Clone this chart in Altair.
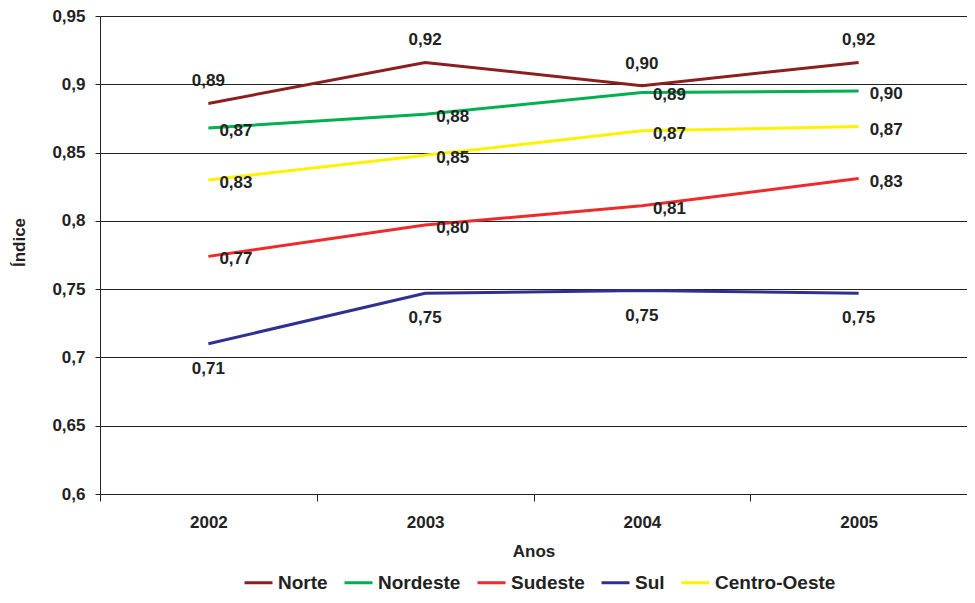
import altair as alt
import pandas as pd

years = ["2002", "2003", "2004", "2005"]
series_names = ["Norte", "Nordeste", "Sudeste", "Sul", "Centro-Oeste"]
norte = [0.886, 0.916, 0.899, 0.916]
nordeste = [0.868, 0.878, 0.894, 0.895]
sudeste = [0.774, 0.797, 0.811, 0.831]
sul = [0.710, 0.747, 0.749, 0.747]
centro_oeste = [0.830, 0.848, 0.866, 0.869]
colors = ["#8B1F1F", "#00B04F", "#EE2A2A", "#2E3192", "#FFF200"]
y_ticks = [0.6, 0.65, 0.7, 0.75, 0.8, 0.85, 0.9, 0.95]

values = [norte, nordeste, sudeste, sul, centro_oeste]
rows = []
for name, vals in zip(series_names, values):
    for yr, v in zip(years, vals):
        rows.append({"Ano": yr, "Regiao": name, "Indice": v})
df = pd.DataFrame(rows)

FONT = "Liberation Sans"

x_enc = alt.X("Ano:O", scale=alt.Scale(type="band", paddingInner=0, paddingOuter=0),
              axis=alt.Axis(title="Anos", labelAngle=0, tickBand="extent", tickSize=7,
                            labelPadding=13, titlePadding=13, grid=False,
                            domainColor="#222222", tickColor="#222222"))
y_enc = alt.Y("Indice:Q", scale=alt.Scale(domain=[0.6, 0.95], nice=False, zero=False),
              axis=alt.Axis(title="Índice", values=y_ticks, tickSize=5, labelPadding=10,
                            labelExpr="replace(format(datum.value, '.2~f'), '.', ',')",
                            grid=True, gridColor="#222222", gridOpacity=1,
                            domainColor="#222222", tickColor="#222222",
                            titleX=-72, titleY=226))

color_enc = alt.Color("Regiao:N",
                      scale=alt.Scale(domain=series_names, range=colors),
                      legend=alt.Legend(title=None, orient="none", direction="horizontal",
                                        legendX=143, legendY=551, symbolType="stroke",
                                        symbolSize=784, symbolStrokeWidth=3,
                                        labelFontSize=19, labelFont=FONT, labelFontWeight="bold",
                                        labelColor="#222222", columnPadding=10, labelOffset=4))

base = alt.Chart(df)

lines = base.mark_line(strokeWidth=3).encode(x=x_enc, y=y_enc, color=color_enc)

lab = base.transform_calculate(lbl="replace(format(datum.Indice, '.2f'), '.', ',')")

text_style = dict(font=FONT, fontSize=17, fontWeight="bold", color="#222222")

norte_lbl = lab.transform_filter(alt.datum.Regiao == "Norte").mark_text(
    dy=-22, align="center", baseline="middle", **text_style
).encode(x="Ano:O", y="Indice:Q", text="lbl:N")

right_lbl = lab.transform_filter(
    alt.FieldOneOfPredicate(field="Regiao", oneOf=["Nordeste", "Sudeste", "Centro-Oeste"])
).mark_text(dx=11, dy=3, align="left", baseline="middle", **text_style
).encode(x="Ano:O", y="Indice:Q", text="lbl:N")

sul_lbl = lab.transform_filter(alt.datum.Regiao == "Sul").mark_text(
    dy=25, align="center", baseline="middle", **text_style
).encode(x="Ano:O", y="Indice:Q", text="lbl:N")

chart = alt.layer(lines, norte_lbl, right_lbl, sul_lbl).properties(
    width=867, height=478,
    autosize=alt.AutoSizeParams(type="none"),
    padding={"left": 92, "top": 8, "right": 0, "bottom": 101},
).configure_view(stroke=None).configure_axis(
    labelFont=FONT, labelFontSize=17, labelFontWeight="bold", labelColor="#222222",
    titleFont=FONT, titleFontSize=17, titleFontWeight="bold", titleColor="#222222",
)

chart.save("out.html", embed_options={"renderer": "svg", "actions": False})
